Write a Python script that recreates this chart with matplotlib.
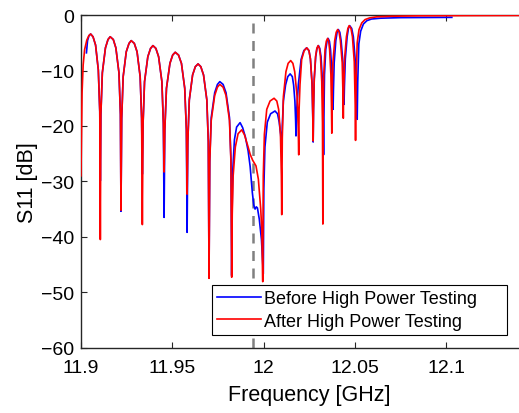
import matplotlib
matplotlib.use("Agg")
import matplotlib.pyplot as plt

plt.rcParams["font.family"] = ["Liberation Sans", "DejaVu Sans"]

# S11 before high power testing (blue)
freq_before = [
    11.9030, 11.9036, 11.9044, 11.9053, 11.9066, 11.9080, 11.9095, 11.9103, 11.9106,
    11.9109, 11.9117, 11.9134, 11.9148, 11.9160, 11.9177, 11.9191, 11.9208, 11.9216, 11.9219,
    11.9223, 11.9231, 11.9248, 11.9263, 11.9275, 11.9292, 11.9307, 11.9324, 11.9332, 11.9336,
    11.9340, 11.9348, 11.9366, 11.9381, 11.9394, 11.9410, 11.9425, 11.9443, 11.9451, 11.9455,
    11.9459, 11.9468, 11.9487, 11.9502, 11.9516, 11.9534, 11.9550, 11.9568, 11.9577, 11.9581,
    11.9585, 11.9593, 11.9611, 11.9626, 11.9641, 11.9656, 11.9671, 11.9689, 11.9697, 11.9701,
    11.9705, 11.9713, 11.9732, 11.9747, 11.9760, 11.9778, 11.9794, 11.9813, 11.9821, 11.9825,
    11.9827, 11.9831, 11.9840, 11.9852, 11.9871, 11.9885, 11.9900, 11.9915, 11.9926, 11.9938,
    11.9946, 11.9953, 11.9960, 11.9966, 11.9976, 11.9988, 11.9998,
    12.0001, 12.0007, 12.0020, 12.0038, 12.0062, 12.0076, 12.0085, 12.0093, 12.0097, 12.0099,
    12.0102, 12.0108, 12.0120, 12.0132, 12.0145, 12.0157, 12.0164, 12.0171, 12.0175, 12.0177,
    12.0181, 12.0190, 12.0205, 12.0220, 12.0235, 12.0248, 12.0256, 12.0265, 12.0269, 12.0271,
    12.0273, 12.0277, 12.0285, 12.0292, 12.0300, 12.0307, 12.0314, 12.0322, 12.0326, 12.0328,
    12.0330, 12.0333, 12.0340, 12.0347, 12.0353, 12.0360, 12.0366, 12.0374, 12.0378, 12.0380,
    12.0382, 12.0386, 12.0395, 12.0402, 12.0409, 12.0417, 12.0424, 12.0434, 12.0438, 12.0440,
    12.0442, 12.0447, 12.0457, 12.0464, 12.0471, 12.0482, 12.0491, 12.0502, 12.0509, 12.0512,
    12.0515, 12.0521, 12.0531, 12.0546, 12.0565, 12.0590, 12.0640, 12.0750, 12.0900, 12.1030,
]
s11_before = [
    -6.8, -4.6, -3.7, -3.4, -3.9, -5.4, -9.9, -17.4, -29.9,
    -17.9, -10.4, -5.9, -4.4, -3.9, -4.4, -5.9, -10.4, -17.9, -35.4,
    -18.6, -11.1, -6.6, -5.1, -4.6, -5.1, -6.6, -11.1, -18.6, -28.7,
    -19.5, -12.0, -7.5, -6.0, -5.5, -6.0, -7.5, -12.0, -19.5, -36.5,
    -20.7, -13.2, -8.7, -7.2, -6.7, -7.2, -8.7, -13.2, -20.7, -39.2,
    -22.8, -15.3, -10.8, -9.3, -8.8, -9.3, -10.8, -15.3, -22.8, -47.0,
    -26.0, -18.5, -14.0, -12.5, -12.0, -12.5, -14.0, -18.5, -26.0, -47.0,
    -36.0, -28.0, -22.5, -20.2, -19.4, -20.3, -22.0, -24.5, -27.3, -32.0,
    -34.3, -35.0, -34.6, -34.8, -36.8, -40.5, -46.7,
    -31.3, -23.8, -19.3, -17.8, -17.3, -17.8, -19.3, -21.5, -23.2, -24.2,
    -20.0, -15.5, -12.6, -11.1, -10.6, -11.1, -12.6, -15.5, -19.0, -21.8,
    -17.0, -12.5, -8.0, -6.4, -5.9, -6.4, -7.9, -12.4, -18.5, -22.9,
    -17.0, -11.5, -7.5, -6.0, -5.5, -6.0, -7.5, -12.0, -19.0, -25.2,
    -18.2, -10.7, -6.2, -4.7, -4.2, -4.7, -6.2, -10.7, -14.5, -17.0,
    -13.5, -8.6, -4.6, -3.1, -2.6, -3.1, -4.6, -8.6, -13.0, -16.1,
    -13.0, -7.9, -3.9, -2.4, -1.9, -2.4, -3.9, -8.4, -14.0, -18.8,
    -12.0, -5.2, -2.9, -1.6, -1.0, -0.7, -0.55, -0.45, -0.42, -0.40,
]

# S11 after high power testing (red)
freq_after = [
    11.9000, 11.9003, 11.9006, 11.9012, 11.9020, 11.9032, 11.9043, 11.9053, 11.9066, 11.9080,
    11.9095, 11.9103, 11.9106,
    11.9109, 11.9117, 11.9134, 11.9148, 11.9160, 11.9177, 11.9191, 11.9208, 11.9216, 11.9219,
    11.9223, 11.9231, 11.9248, 11.9263, 11.9275, 11.9292, 11.9307, 11.9324, 11.9332, 11.9336,
    11.9340, 11.9348, 11.9366, 11.9381, 11.9394, 11.9410, 11.9425, 11.9443, 11.9451, 11.9455,
    11.9459, 11.9468, 11.9487, 11.9502, 11.9516, 11.9534, 11.9550, 11.9568, 11.9577, 11.9581,
    11.9585, 11.9593, 11.9611, 11.9626, 11.9641, 11.9656, 11.9671, 11.9689, 11.9697, 11.9701,
    11.9705, 11.9713, 11.9732, 11.9747, 11.9760, 11.9778, 11.9794, 11.9813, 11.9821, 11.9825,
    11.9828, 11.9833, 11.9845, 11.9860, 11.9880, 11.9895, 11.9915, 11.9926, 11.9940, 11.9958,
    11.9971, 11.9984, 11.9990, 11.9995,
    11.9998, 12.0004, 12.0017, 12.0035, 12.0057, 12.0072, 12.0082, 12.0092, 12.0097, 12.0099,
    12.0102, 12.0108, 12.0122, 12.0134, 12.0148, 12.0160, 12.0170, 12.0183, 12.0189, 12.0192,
    12.0194, 12.0199, 12.0208, 12.0222, 12.0236, 12.0248, 12.0256, 12.0265, 12.0269, 12.0271,
    12.0273, 12.0277, 12.0284, 12.0291, 12.0298, 12.0305, 12.0311, 12.0318, 12.0322, 12.0324,
    12.0326, 12.0329, 12.0336, 12.0343, 12.0350, 12.0356, 12.0361, 12.0368, 12.0371, 12.0373,
    12.0375, 12.0379, 12.0389, 12.0397, 12.0405, 12.0413, 12.0420, 12.0430, 12.0434, 12.0436,
    12.0438, 12.0443, 12.0453, 12.0461, 12.0468, 12.0478, 12.0486, 12.0496, 12.0501, 12.0503,
    12.0506, 12.0512, 12.0522, 12.0537, 12.0555, 12.0580, 12.0620, 12.0700, 12.0850, 12.1100,
    12.1500,
]
s11_after = [
    -29.0, -22.0, -14.0, -9.0, -6.2, -4.5, -3.7, -3.4, -3.9, -5.4,
    -9.9, -17.4, -40.5,
    -17.9, -10.4, -5.9, -4.4, -3.9, -4.4, -5.9, -10.4, -17.9, -35.2,
    -18.6, -11.1, -6.6, -5.1, -4.6, -5.1, -6.6, -11.1, -18.6, -37.8,
    -19.5, -12.0, -7.5, -6.0, -5.5, -6.0, -7.5, -12.0, -19.5, -28.3,
    -20.7, -13.2, -8.7, -7.2, -6.7, -7.2, -8.7, -13.2, -20.7, -32.3,
    -22.8, -15.3, -10.8, -9.3, -8.8, -9.3, -10.8, -15.3, -22.8, -47.5,
    -26.5, -19.0, -14.5, -13.0, -12.5, -13.0, -14.5, -19.0, -26.5, -47.3,
    -36.0, -29.0, -23.8, -21.4, -20.7, -21.6, -23.8, -25.1, -26.2, -27.2,
    -29.6, -35.0, -39.0, -48.1,
    -29.0, -21.5, -17.0, -15.5, -15.0, -15.5, -17.0, -21.5, -29.0, -36.0,
    -22.2, -14.7, -10.2, -8.7, -8.2, -8.7, -10.2, -14.7, -20.0, -25.2,
    -17.0, -12.5, -8.0, -6.4, -5.9, -6.4, -7.9, -12.4, -18.0, -22.7,
    -17.0, -11.5, -7.5, -6.0, -5.5, -6.0, -7.5, -12.0, -19.5, -37.7,
    -18.2, -10.7, -6.2, -4.7, -4.2, -4.7, -6.2, -10.7, -16.0, -21.3,
    -14.0, -8.6, -4.6, -3.1, -2.6, -3.1, -4.6, -8.6, -14.0, -18.6,
    -14.0, -7.9, -3.9, -2.4, -1.9, -2.4, -3.9, -8.4, -16.0, -22.6,
    -12.0, -5.0, -2.6, -1.4, -0.8, -0.5, -0.3, -0.2, -0.12, -0.08,
    -0.05,
]

marker_freq = 11.994
x_ticks = [11.9, 11.95, 12.0, 12.05, 12.1]
x_tick_labels = ["11.9", "11.95", "12", "12.05", "12.1"]
y_ticks = [-60, -50, -40, -30, -20, -10, 0]

fig = plt.figure(figsize=(5.19, 4.14), dpi=100)
ax = fig.add_axes([0.156, 0.158, 0.88, 0.803])

ax.axvline(marker_freq, color="#808080", linestyle=(0, (4, 3)), linewidth=1.8, zorder=1)
ax.plot(freq_before, s11_before, color="#0000ff", linewidth=1.2,
        label="Before High Power Testing", zorder=2)
ax.plot(freq_after, s11_after, color="#ff0000", linewidth=1.2,
        label="After High Power Testing", zorder=3)

ax.set_xlim(11.9, 12.15)
ax.set_ylim(-60, 0)
ax.set_xticks(x_ticks)
ax.set_xticklabels(x_tick_labels)
ax.set_yticks(y_ticks)
ax.tick_params(direction="in", top=True, right=True, length=4, width=0.8,
               labelsize=14, color="#262626", labelcolor="black")
ax.tick_params(axis="x", pad=8)
ax.tick_params(axis="y", pad=5)
for s in ax.spines.values():
    s.set_color("#262626")
    s.set_linewidth(1.0)

ax.set_xlabel("Frequency [GHz]", fontsize=15.5, labelpad=6)
ax.set_ylabel("S11 [dB]", fontsize=15.5, labelpad=2)

leg = ax.legend(loc="lower left", bbox_to_anchor=(0.287, 0.0375, 0.646, 0.148),
                mode="expand", borderaxespad=0,
                fontsize=13, handlelength=2.4, handletextpad=0.2, labelspacing=0.3,
                borderpad=0.3, fancybox=False, framealpha=1, edgecolor="black")
leg.get_frame().set_linewidth(0.8)

fig.savefig("out.png", dpi=100)
